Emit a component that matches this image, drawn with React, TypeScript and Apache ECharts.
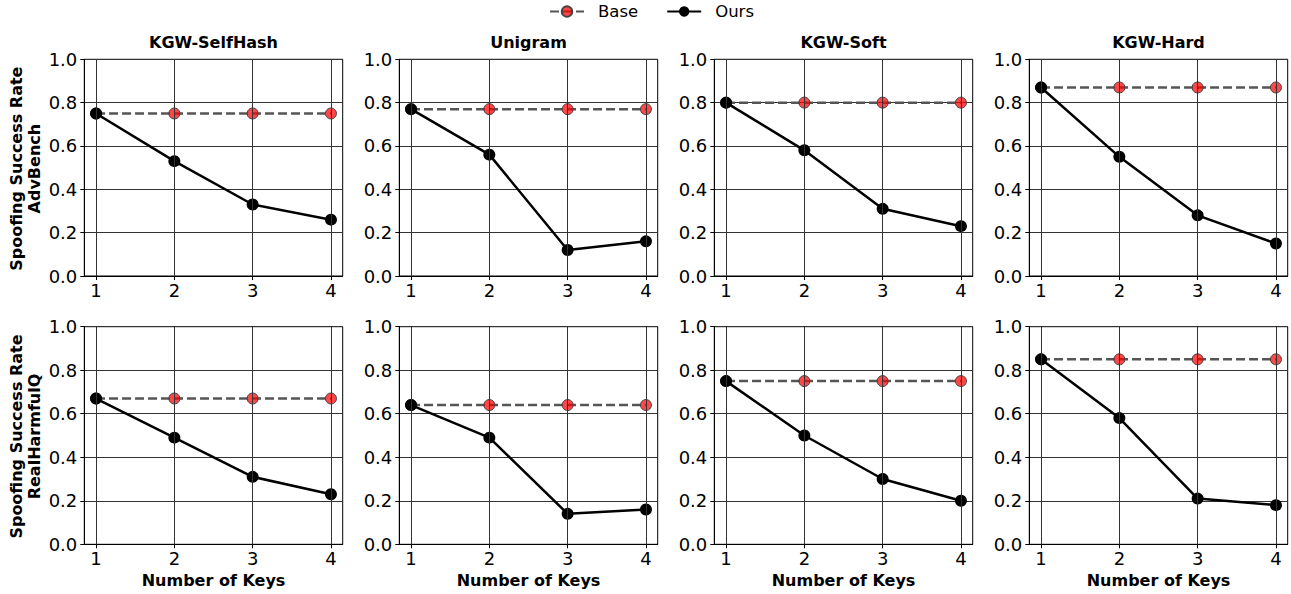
import React, { useEffect, useRef } from "react";
import * as echarts from "echarts";

const numKeys = [1, 2, 3, 4];
const methods = ["KGW-SelfHash", "Unigram", "KGW-Soft", "KGW-Hard"];
const datasets = ["AdvBench", "RealHarmfulQ"];
const yTicks = [0, 0.2, 0.4, 0.6, 0.8, 1.0];

const baseAdvBench = [0.75, 0.77, 0.8, 0.87];
const baseRealHarmfulQ = [0.67, 0.64, 0.75, 0.85];

const oursAdvBenchSelfHash = [0.75, 0.53, 0.33, 0.26];
const oursAdvBenchUnigram = [0.77, 0.56, 0.12, 0.16];
const oursAdvBenchSoft = [0.8, 0.58, 0.31, 0.23];
const oursAdvBenchHard = [0.87, 0.55, 0.28, 0.15];

const oursRealHarmfulQSelfHash = [0.67, 0.49, 0.31, 0.23];
const oursRealHarmfulQUnigram = [0.64, 0.49, 0.14, 0.16];
const oursRealHarmfulQSoft = [0.75, 0.5, 0.3, 0.2];
const oursRealHarmfulQHard = [0.85, 0.58, 0.21, 0.18];

const baseByRow = [baseAdvBench, baseRealHarmfulQ];
const oursByRow = [
  [oursAdvBenchSelfHash, oursAdvBenchUnigram, oursAdvBenchSoft, oursAdvBenchHard],
  [oursRealHarmfulQSelfHash, oursRealHarmfulQUnigram, oursRealHarmfulQSoft, oursRealHarmfulQHard],
];

const FONT = "DejaVu Sans";
const colLeft = [84.3, 399.3, 714.3, 1029.3];
const gridW = 258.4;
const rowTop = [59.3, 326.7];
const gridH = [216.7, 217.6];

export default function App() {
  const ref = useRef<HTMLDivElement>(null);
  useEffect(() => {
    if (!ref.current) return;
    const chart = echarts.init(ref.current, null, { renderer: "svg" });
    const grids: any[] = [];
    const xAxes: any[] = [];
    const yAxes: any[] = [];
    const series: any[] = [];
    const graphics: any[] = [];
    let idx = 0;
    for (let r = 0; r < 2; r++) {
      for (let c = 0; c < 4; c++) {
        grids.push({
          left: colLeft[c],
          top: rowTop[r],
          width: gridW,
          height: gridH[r],
          show: true,
          borderColor: "#000",
          borderWidth: 1,
          backgroundColor: "transparent",
        });
        xAxes.push({
          type: "value",
          gridIndex: idx,
          min: 0.85,
          max: 4.15,
          name: r === 1 ? "Number of Keys" : "",
          nameLocation: "middle",
          nameGap: 28,
          nameTextStyle: { fontFamily: FONT, fontSize: 16, fontWeight: "bold", color: "#000" },
          axisLine: { show: true, onZero: false, lineStyle: { color: "#000", width: 1 } },
          axisTick: { show: true, length: 4, inside: false, customValues: numKeys, lineStyle: { color: "#000" } },
          axisLabel: {
            customValues: numKeys,
            fontFamily: FONT,
            fontSize: 18,
            color: "#000",
            margin: 5,
            formatter: (v: number) => String(Math.round(v)),
          },
          splitLine: { show: false },
        });
        yAxes.push({
          type: "value",
          gridIndex: idx,
          min: 0,
          max: 1,
          interval: 0.2,
          axisLine: { show: true, lineStyle: { color: "#000", width: 1 } },
          axisTick: { show: true, length: 4, lineStyle: { color: "#000" } },
          axisLabel: {
            fontFamily: FONT,
            fontSize: 18,
            color: "#000",
            margin: 7,
            formatter: (v: number) => v.toFixed(1),
          },
          splitLine: { show: true, lineStyle: { color: "#333", width: 1 } },
        });
        series.push({
          name: "_vgrid" + idx,
          type: "line",
          xAxisIndex: idx,
          yAxisIndex: idx,
          data: [],
          z: 1,
          silent: true,
          markLine: {
            silent: true,
            symbol: ["none", "none"],
            label: { show: false },
            emphasis: { disabled: true },
            lineStyle: { color: "#333", width: 1, type: "solid" },
            data: numKeys.map((k) => ({ xAxis: k })),
          },
        });
        series.push({
          name: "Base",
          type: "line",
          xAxisIndex: idx,
          yAxisIndex: idx,
          data: numKeys.map((k) => [k, baseByRow[r][c]]),
          symbol: "circle",
          symbolSize: 11,
          z: 3,
          lineStyle: { color: "#555", width: 2.5, type: [9, 4] },
          itemStyle: { color: "rgba(255,0,0,0.72)", borderColor: "#444", borderWidth: 1 },
          emphasis: { disabled: true },
        });
        series.push({
          name: "Ours",
          type: "line",
          xAxisIndex: idx,
          yAxisIndex: idx,
          data: numKeys.map((k, j) => [k, oursByRow[r][c][j]]),
          symbol: "circle",
          symbolSize: 12,
          z: 4,
          lineStyle: { color: "#000", width: 2.5 },
          itemStyle: { color: "#000" },
          emphasis: { disabled: true },
        });
        idx++;
      }
    }
    for (let c = 0; c < 4; c++) {
      graphics.push({
        type: "text",
        x: colLeft[c] + gridW / 2,
        y: 42,
        style: {
          text: methods[c],
          font: `bold 16px "${FONT}"`,
          fill: "#000",
          textAlign: "center",
          textVerticalAlign: "middle",
          align: "center",
          verticalAlign: "middle",
        },
      });
    }
    for (let r = 0; r < 2; r++) {
      graphics.push({
        type: "text",
        x: 25,
        y: rowTop[r] + gridH[r] / 2 + 1,
        rotation: Math.PI / 2,
        style: {
          text: "Spoofing Success Rate\n" + datasets[r],
          font: `bold 16px "${FONT}"`,
          lineHeight: 18,
          fill: "#000",
          textAlign: "center",
          textVerticalAlign: "middle",
          align: "center",
          verticalAlign: "middle",
        },
      });
    }
    chart.setOption({
      animation: false,
      textStyle: { fontFamily: FONT },
      legend: {
        data: ["Base", "Ours"],
        left: 544,
        top: 1,
        padding: [2, 5, 2, 5],
        itemWidth: 34,
        itemHeight: 13,
        itemGap: 28,
        textStyle: { fontFamily: FONT, fontSize: 16.5, color: "#000", padding: [0, 0, 0, 9] },
      },
      grid: grids,
      xAxis: xAxes,
      yAxis: yAxes,
      series,
      graphic: graphics,
    });
    return () => chart.dispose();
  }, []);
  return (
    <div
      ref={ref}
      style={{ position: "fixed", left: 0, top: 0, width: 1291, height: 594, background: "#fff" }}
    />
  );
}
